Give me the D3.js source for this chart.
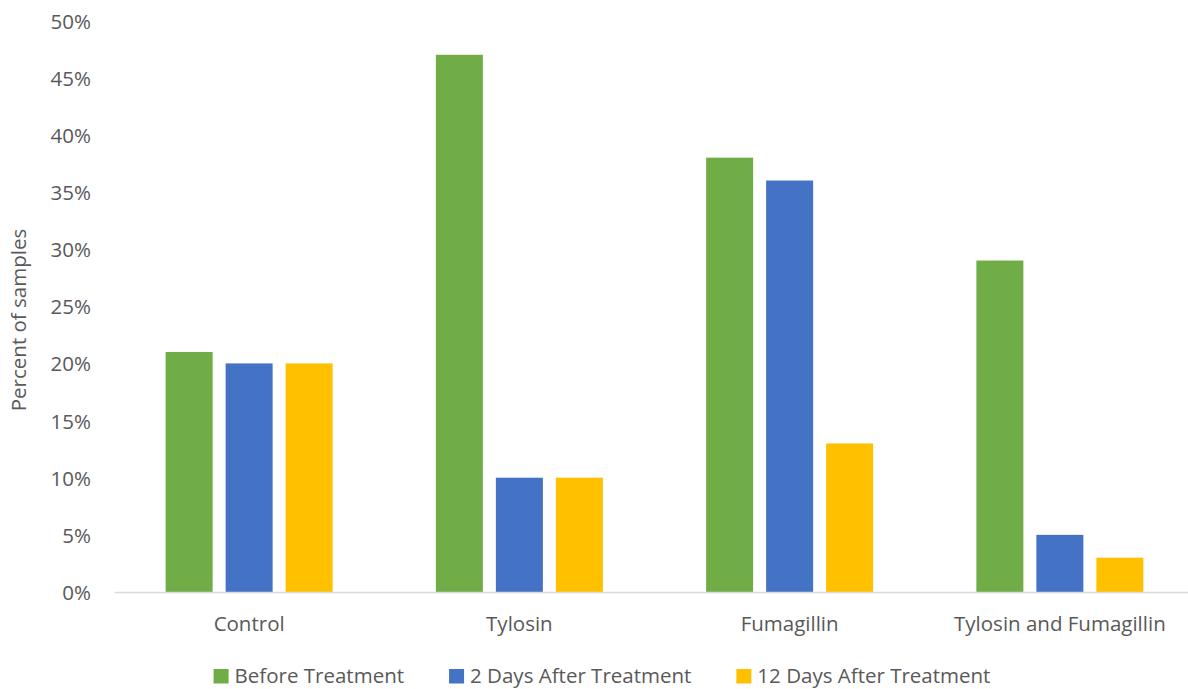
<!DOCTYPE html>
<html>
<head>
<meta charset="utf-8">
<script src="https://cdn.jsdelivr.net/npm/d3@7"></script>
<style>
  body { margin: 0; background: #fff; }
  svg { display: block; font-family: "Open Sans", "Noto Sans", sans-serif; }
</style>
</head>
<body>
<svg id="chart" width="1188" height="689"></svg>
<script>
// Treatment groups along the x axis
const categories = ["Control", "Tylosin", "Fumagillin", "Tylosin and Fumagillin"];
// Sampling times (one bar each per group)
const seriesNames = ["Before Treatment", "2 Days After Treatment", "12 Days After Treatment"];
// Percent of samples for each sampling time
const beforeTreatment = [21, 47, 38, 29];
const after2Days = [20, 10, 36, 5];
const after12Days = [20, 10, 13, 3];
const yTicks = [0, 5, 10, 15, 20, 25, 30, 35, 40, 45, 50];
const colors = ["#70AD47", "#4472C4", "#FFC000"];

const seriesValues = [beforeTreatment, after2Days, after12Days];
const rows = categories.map((c, i) => ({
  category: c,
  values: seriesNames.map((s, j) => ({ series: s, idx: j, value: seriesValues[j][i] }))
}));

const svg = d3.select("#chart");
const textColor = "#595959";
const fontSize = "20.5px";

const x = d3.scaleBand().domain(categories).range([114, 1195]).paddingInner(0).paddingOuter(0);
const y = d3.scaleLinear().domain([0, 50]).range([592, 20.5]);
const barW = 47, barStep = 60;

// Y axis labels
const yAxis = svg.append("g").attr("transform", "translate(91,1)")
  .call(d3.axisLeft(y).tickValues(yTicks).tickFormat(d => d + "%").tickSize(0).tickPadding(0));
yAxis.select(".domain").remove();
yAxis.selectAll("text")
  .attr("fill", textColor)
  .style("font-size", fontSize)
  .style("font-family", "'Open Sans', sans-serif");

// Bars
const groups = svg.append("g").selectAll("g").data(rows).join("g")
  .attr("transform", d => `translate(${x(d.category) + x.bandwidth() / 2},0)`);
groups.selectAll("rect").data(d => d.values).join("rect")
  .attr("x", d => (d.idx - 1) * barStep - barW / 2)
  .attr("y", d => y(d.value))
  .attr("width", barW)
  .attr("height", d => y(0) - y(d.value))
  .attr("fill", d => colors[d.idx]);

// X axis baseline and category labels
const xAxis = svg.append("g").attr("transform", "translate(0,592)")
  .call(d3.axisBottom(x).tickSize(0).tickPadding(24.5));
xAxis.select(".domain").attr("stroke", "#d9d9d9").attr("stroke-width", 1.5);
xAxis.selectAll("text")
  .attr("fill", textColor)
  .style("font-size", fontSize)
  .style("font-family", "'Open Sans', sans-serif");

// Y axis title
svg.append("text")
  .attr("transform", "translate(26,320) rotate(-90)")
  .attr("text-anchor", "middle")
  .attr("fill", textColor)
  .style("font-size", fontSize)
  .text("Percent of samples");

// Legend: swatch + label, items laid out in a row and centred
const swatch = 15, swGap = 6, itemGap = 45, legendCenter = 602;
const legend = svg.append("g");
const items = legend.selectAll("g").data(seriesNames).join("g");
items.append("rect").attr("y", 669).attr("width", swatch).attr("height", 14.5)
  .attr("fill", (d, i) => colors[i]);
items.append("text")
  .attr("x", swatch + swGap).attr("y", 683)
  .attr("fill", textColor)
  .style("font-size", fontSize)
  .text(d => d);
let offset = 0;
const offsets = [];
items.each(function () {
  offsets.push(offset);
  offset += this.getBBox().width + itemGap;
});
const total = offset - itemGap;
items.attr("transform", (d, i) => `translate(${legendCenter - total / 2 + offsets[i]},0)`);
</script>
</body>
</html>
